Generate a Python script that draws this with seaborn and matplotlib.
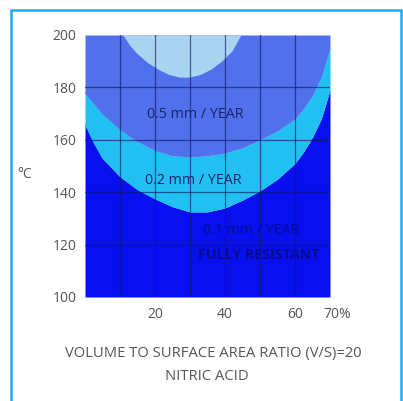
import matplotlib
matplotlib.use("Agg")
import matplotlib.pyplot as plt
import matplotlib.patches as patches
import matplotlib.transforms as mtransforms
import seaborn as sns
import pandas as pd

# ---- data ----
pct = [0, 2.5, 5, 10, 15, 20, 25, 30, 35, 40, 45, 50, 55, 60, 62.5, 65, 67.5, 70]
limit_05 = [178, 174, 170, 164, 159.5, 156, 154, 153.5, 154, 155, 157, 160, 163.5, 168, 172, 177, 184, 195]
limit_02 = [166, 159, 153, 146, 141, 137.5, 134.5, 132.5, 132.5, 134, 137, 140.5, 145, 151, 155.5, 161, 168, 179]
cap_pct = [11, 13, 15, 18, 21, 24, 27, 30, 33, 36, 39, 42, 44.5]
cap_temp = [200, 196, 193, 189.5, 187, 185, 184, 184, 185, 187, 190, 194, 200]

y_ticks = [100, 120, 140, 160, 180, 200]
x_ticks = [20, 40, 60, 70]
x_tick_labels = ["20", "40", "60", "70%"]
grid_x = [10, 20, 30, 40, 50, 60]
grid_y = [120, 140, 160, 180]

c_dark = "#0810f0"
c_cyan = "#22c0f2"
c_med = "#5070ec"
c_light = "#a8d4f0"
c_text = "#1a2466"

sns.set_theme(style="white")
plt.rcParams["font.family"] = ["Open Sans", "DejaVu Sans"]

fig = plt.figure(figsize=(4.03, 4.01), dpi=100)
fig.patch.set_facecolor("white")
ax = fig.add_axes([85 / 403, 1 - 297 / 401, 245 / 403, 262 / 401])

df = pd.DataFrame({"pct": pct, "l05": limit_05, "l02": limit_02})
dfc = pd.DataFrame({"pct": cap_pct, "t": cap_temp})

ax.fill_between(df["pct"], 100, df["l02"], color=c_dark, lw=0)
ax.fill_between(df["pct"], df["l02"], df["l05"], color=c_cyan, lw=0)
ax.fill_between(df["pct"], df["l05"], 200, color=c_med, lw=0)
ax.fill_between(dfc["pct"], dfc["t"], 200, color=c_light, lw=0)
sns.lineplot(data=df, x="pct", y="l02", ax=ax, color=c_cyan, lw=0.6)
sns.lineplot(data=df, x="pct", y="l05", ax=ax, color=c_med, lw=0.6)
sns.lineplot(data=dfc, x="pct", y="t", ax=ax, color=c_light, lw=0.6)

for gx in grid_x:
    ax.axvline(gx, color="#101a60", lw=0.9, alpha=0.65, zorder=3)
for gy in grid_y:
    ax.axhline(gy, color="#101a60", lw=0.9, alpha=0.65, zorder=3)

ax.set_xlim(0, 70)
ax.set_ylim(100, 200)
ax.set_yticks(y_ticks)
ax.set_yticklabels([str(v) for v in y_ticks])
ax.set_xticks(x_ticks)
ax.set_xticklabels(x_tick_labels)
ax.tick_params(axis="both", length=0, labelsize=10, labelcolor="#555555")
ax.tick_params(axis="y", pad=6)
ax.tick_params(axis="x", pad=7)
lbl = ax.get_xticklabels()[-1]
lbl.set_transform(lbl.get_transform() + mtransforms.ScaledTranslation(7 / 100, 0, fig.dpi_scale_trans))
for s in ax.spines.values():
    s.set_visible(False)
ax.set_xlabel("")
ax.set_ylabel("")

ax.text(31.5, 169.5, "0.5 mm / YEAR", color=c_text, fontsize=10.3, ha="center", va="center", zorder=4)
ax.text(31, 144.5, "0.2 mm / YEAR", color=c_text, fontsize=10.3, ha="center", va="center", zorder=4)
ax.text(47.5, 125.5, "0.1 mm / YEAR", color="#0a0c90", fontsize=10.3, ha="center", va="center", zorder=4)
ax.text(49.5, 116, "FULLY RESISTANT", color="#0a0c90", fontsize=10.3, ha="center", va="center",
        fontweight="bold", zorder=4)

fig.text(25 / 403, 1 - 175 / 401, "°C", color="#555555", fontsize=10, ha="center", va="center")
fig.text(213 / 403, 1 - 353 / 401, "VOLUME TO SURFACE AREA RATIO (V/S)=20", color="#555555",
         fontsize=10.6, ha="center", va="center")
fig.text(207 / 403, 1 - 377 / 401, "NITRIC ACID", color="#555555", fontsize=10.6, ha="center", va="center")

frame = patches.Rectangle((11 / 403, -0.05), (401 - 11) / 403, 1.05 - 10 / 401,
                          transform=fig.transFigure, fill=False, edgecolor="#20a8f0", lw=1.8)
fig.patches.append(frame)

fig.savefig("out.png", dpi=100, facecolor="white")
